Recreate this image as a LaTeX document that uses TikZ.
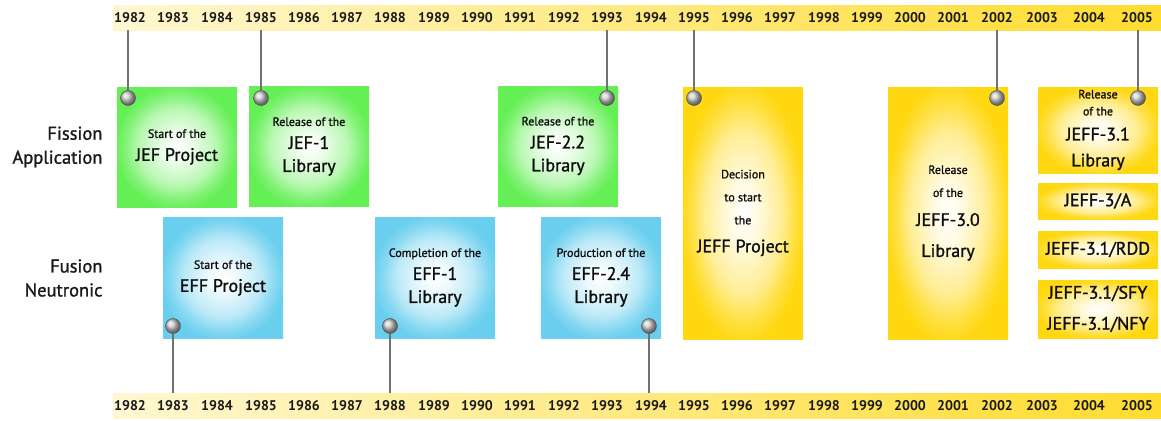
\documentclass[tikz,border=0pt]{standalone}
\usepackage{fontspec}
\setmainfont{PT Sans}
\newfontfamily\heavier[FakeBold=1.2]{PT Sans}
\usepackage{xcolor}
\usetikzlibrary{positioning}

\definecolor{jefgreen}{HTML}{64EF55}
\definecolor{effblue}{HTML}{6ACFEE}
\definecolor{jeffyellow}{HTML}{FFD812}
\definecolor{barlight}{HTML}{FFF7D2}
\definecolor{bardark}{HTML}{FFDC2E}
\definecolor{stemgray}{HTML}{727272}

\pgfdeclareradialshading{greenglow}{\pgfpoint{0bp}{0bp}}{color(0bp)=(white); color(6bp)=(white!88!jefgreen);
  color(16bp)=(white!55!jefgreen); color(22bp)=(white!18!jefgreen); color(26bp)=(jefgreen); color(50bp)=(jefgreen)}
\pgfdeclareradialshading{blueglow}{\pgfpoint{0bp}{0bp}}{color(0bp)=(white); color(6bp)=(white!88!effblue);
  color(16bp)=(white!55!effblue); color(22bp)=(white!18!effblue); color(26bp)=(effblue); color(50bp)=(effblue)}
\pgfdeclareradialshading{yellowglow}{\pgfpoint{0bp}{0bp}}{color(0bp)=(white); color(6bp)=(white!88!jeffyellow);
  color(16bp)=(white!55!jeffyellow); color(22bp)=(white!18!jeffyellow); color(26bp)=(jeffyellow); color(50bp)=(jeffyellow)}

\newcommand\minor{\fontsize{12}{15}\selectfont}
\newcommand\major{\heavier\fontsize{18}{23}\selectfont}

\begin{document}
\begin{tikzpicture}[
  x=1pt, y=-1pt,
  card/.style={rectangle, inner sep=0pt, minimum width=120pt, align=center,
    font=\major, text=black!95, shade},
  fission/.style={card, shading=greenglow, minimum height=120pt},
  fusion/.style={card, shading=blueglow, minimum height=121pt},
  jeff/.style={card, shading=yellowglow},
  timebar/.style={rectangle, inner sep=0pt, minimum width=1048pt, minimum height=25pt,
    left color=barlight, right color=bardark, anchor=north west},
  yearlabel/.style={font=\fontsize{14}{14}\selectfont\bfseries, text=black!90},
  side/.style={align=right, anchor=east, font=\heavier\fontsize{18.5}{24}\selectfont, text=black!90},
  knob/.style={circle, inner sep=0pt, minimum size=15pt, ball color=gray!40,
    draw=gray!65!black, line width=0.5pt},
  stem/.style={draw=stemgray, line width=2.4pt}
]
\useasboundingbox (0,0) rectangle (1161,420);

\node[timebar] (topbar) at (113,5) {};
\node[timebar] (botbar) at (113,393) {};
\foreach \yr/\xx in {1982/130,1983/173,1984/217,1985/261,1986/304,1987/347,1988/390,
    1989/434,1990/477,1991/520,1992/564,1993/607,1994/651,1995/694,1996/737,1997/780,
    1998/824,1999/867,2000/910,2001/953,2002/997,2003/1042,2004/1089,2005/1137}{
  \node[yearlabel] (top\yr) at (\xx,17.5) {\yr};
  \node[yearlabel] (bot\yr) at (\xx,405.5) {\yr};
}

\node[side] (app) at (106,147) {Fission\\Application};
\node[side] (neu) at (106,278) {Fusion\\Neutronic};

\node[fission] (jefstart) at (177,147) {{\minor Start of the}\\JEF Project};
\node[fission] (jefone) at (309,146.5) {{\minor Release of the}\\JEF-1\\Library};
\node[fission] (jeftwo) at (558,146) {{\minor Release of the}\\JEF-2.2\\Library};
\node[fusion] (effstart) at (223,278) {{\minor Start of the}\\EFF Project};
\node[fusion] (effone) at (435,277.5) {{\minor Completion of the}\\EFF-1\\Library};
\node[fusion] (efftwo) at (601,277.5) {{\minor Production of the}\\EFF-2.4\\Library};
\node[jeff, minimum height=252pt] (jeffstart) at (743,213)
  {{\minor Decision}\\{\minor to start}\\{\minor the}\\[5pt]JEFF Project};
\node[jeff, minimum height=252pt] (jeffthree) at (948,213)
  {{\minor Release}\\{\minor of the}\\[6pt]JEFF-3.0\\[8pt]Library};
\node[jeff, minimum height=86pt] (jeffone) at (1098,130)
  {{\minor Release}\\[-6pt]{\minor of the}\\[2pt]JEFF-3.1\\[3pt]Library};
\node[jeff, minimum height=36pt] (jeffa) at (1098,201) {JEFF-3/A};
\node[jeff, minimum height=37pt] (jeffrdd) at (1098,249.5) {JEFF-3.1/RDD};
\node[jeff, minimum height=58pt] (jeffsfy) at (1098,309) {JEFF-3.1/SFY\\[8pt]JEFF-3.1/NFY};

\node[knob] (k82) at (128,98) {};
\node[knob] (k85) at (261,98) {};
\node[knob] (k93) at (607,98) {};
\node[knob] (k95) at (694,98) {};
\node[knob] (k02) at (997,98) {};
\node[knob] (k05) at (1138,98) {};
\node[knob] (k83) at (173,326) {};
\node[knob] (k88) at (390,326) {};
\node[knob] (k94) at (649,326) {};

\foreach \k in {k82,k85,k93,k95,k02,k05}
  \draw[stem] (\k.north) -- (\k |- topbar.south);
\foreach \k in {k83,k88,k94}
  \draw[stem] (\k.south) -- (\k |- botbar.north);
\end{tikzpicture}
\end{document}
